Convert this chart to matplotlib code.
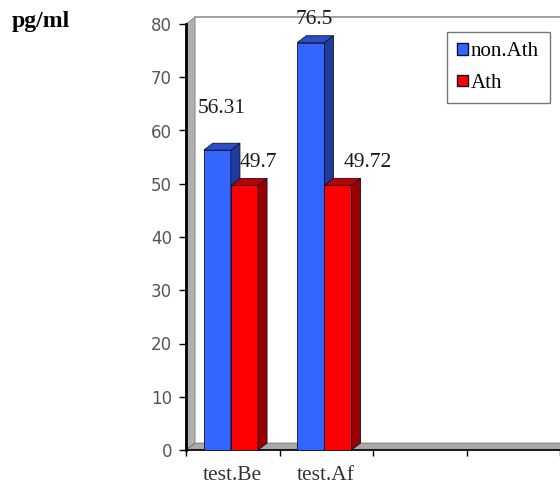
import matplotlib.pyplot as plt
from matplotlib.patches import Polygon, Rectangle
from matplotlib.lines import Line2D

# === Data ===
categories = ["test.Be", "test.Af", "", ""]
series_names = ["non.Ath", "Ath"]
non_ath = [56.31, 76.5]
ath = [49.7, 49.72]
value_labels = [["56.31", "76.5"], ["49.7", "49.72"]]

# === Styles ===
front_colors = ["#3366FF", "#FF0000"]
top_colors = ["#2A4FC8", "#C00000"]
side_colors = ["#1E3C9E", "#9A0000"]
serif = "Liberation Serif"

fig = plt.figure(figsize=(5.6, 4.86), dpi=100)
ax = fig.add_axes([186 / 560, 36 / 486, 374 / 560, 426 / 486])
ax.set_xlim(0, len(categories))
ax.set_ylim(0, 80)

# depth of the fake 3D effect (data units)
dx, dy = 0.097, 1.3

# side wall, floor and back wall border
ax.add_patch(Polygon([(0, 0), (0, 80), (dx, 80 + dy), (dx, dy)],
                     closed=True, facecolor="#B0B0B0", edgecolor="#808080",
                     lw=0.6, clip_on=False, zorder=1))
ax.add_patch(Polygon([(0, 0), (4, 0), (4 + dx, dy), (dx, dy)],
                     closed=True, facecolor="#A8A8A8", edgecolor="#707070",
                     lw=0.6, clip_on=False, zorder=1))
ax.add_line(Line2D([dx, 4], [80 + dy, 80 + dy], color="#909090", lw=1.2,
                   clip_on=False, zorder=1))


def bar3d(x0, w, h, k):
    ax.add_patch(Rectangle((x0, 0), w, h, facecolor=front_colors[k],
                           edgecolor="#101030", lw=0.6, zorder=3))
    ax.add_patch(Polygon([(x0 + w, 0), (x0 + w + dx, dy), (x0 + w + dx, h + dy),
                          (x0 + w, h)], closed=True, facecolor=side_colors[k],
                         edgecolor="#101030", lw=0.6, zorder=3))
    ax.add_patch(Polygon([(x0, h), (x0 + dx, h + dy), (x0 + w + dx, h + dy),
                          (x0 + w, h)], closed=True, facecolor=top_colors[k],
                         edgecolor="#101030", lw=0.6, zorder=3))


bw = 0.29
for i, (a, b) in enumerate(zip(non_ath, ath)):
    bar3d(i + 0.19, bw, a, 0)
    bar3d(i + 0.19 + bw, bw, b, 1)

# value labels (placed by eye as in the original)
label_pos = [[(0.385, 64.1), (1.37, 80.8)], [(0.775, 54.0), (1.94, 54.0)]]
for k in range(2):
    for i in range(2):
        x, y = label_pos[k][i]
        ax.text(x, y, value_labels[k][i], ha="center", va="center",
                family=serif, fontsize=15.5, color="#1a1a1a", zorder=5)

# axes styling
for s in ["top", "right"]:
    ax.spines[s].set_visible(False)
ax.spines["left"].set_linewidth(2)
ax.spines["bottom"].set_linewidth(1.2)
ax.set_yticks(range(0, 81, 10))
ax.set_xticks(range(0, 5))
ax.set_xticklabels([])
ax.tick_params(axis="y", direction="out", length=5, width=1, labelsize=12,
               labelcolor="#555555", pad=5)
ax.tick_params(axis="x", direction="out", length=4, width=1)
for i, c in enumerate(categories):
    ax.text(i + 0.5, -4.8, c, ha="center", va="center", family=serif,
            fontsize=15.5, color="#333333")

fig.text(12 / 560, 1 - 22 / 486, "pg/ml", family=serif, fontweight="bold",
         fontsize=17, ha="left", va="center")

# legend
handles = [Rectangle((0, 0), 1, 1, facecolor=front_colors[k], edgecolor="#101030")
           for k in range(2)]
leg = ax.legend(handles, series_names, loc="upper left",
                bbox_to_anchor=((447 - 186) / 374, (450 - 32) / 426),
                prop={"family": serif, "size": 15}, frameon=True, fancybox=False,
                handlelength=0.5, handleheight=0.5, handletextpad=0.15,
                borderpad=0.5, labelspacing=0.6, borderaxespad=0)
leg.get_frame().set_edgecolor("#555555")
leg.get_frame().set_linewidth(1)

fig.savefig("out.png", dpi=100)
